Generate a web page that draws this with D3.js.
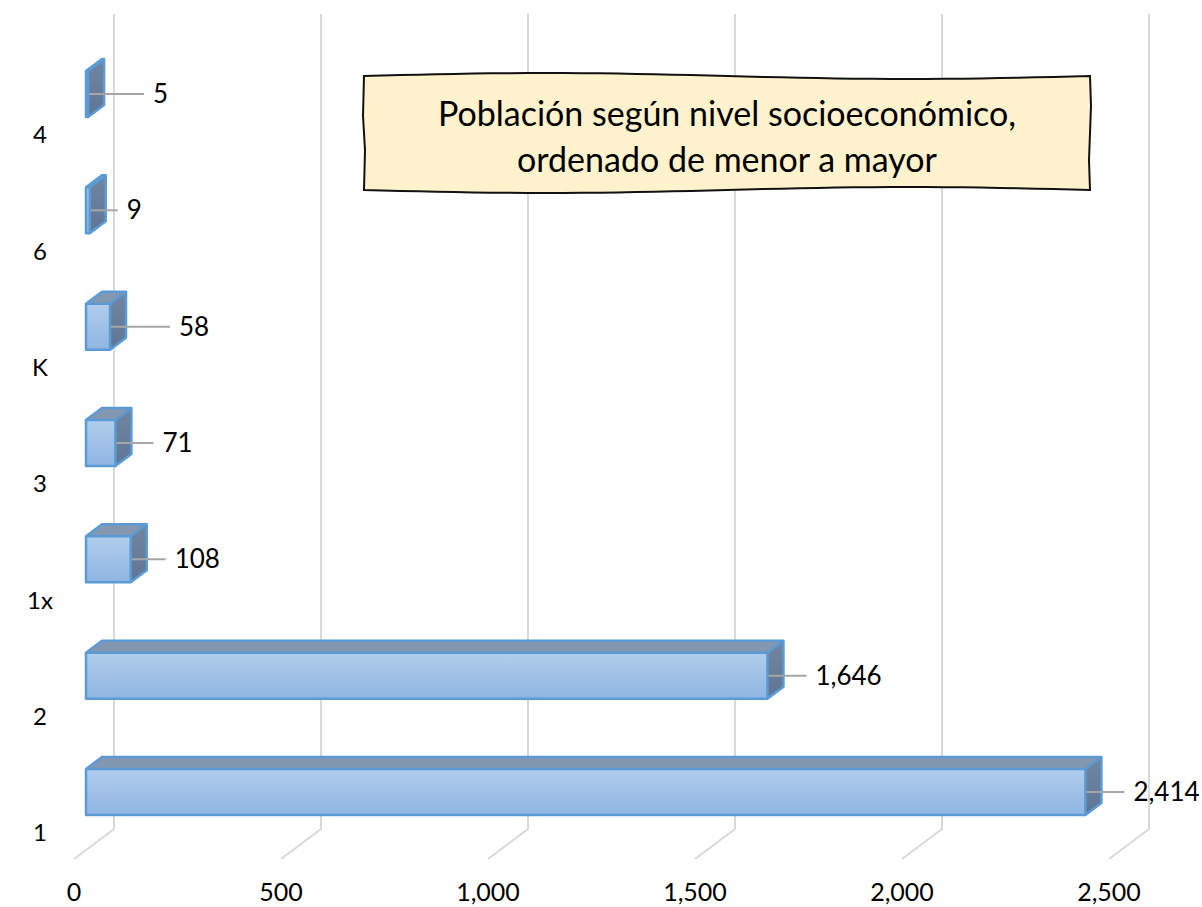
<!DOCTYPE html>
<html>
<head>
<meta charset="utf-8">
<script src="https://cdn.jsdelivr.net/npm/d3@7"></script>
<style>
  body { margin: 0; background: #fff; }
  svg { display: block; font-family: Lato, "Open Sans", sans-serif; }
</style>
</head>
<body>
<div id="chart"></div>
<script>
// categories top to bottom
const categories = ["4", "6", "K", "3", "1x", "2", "1"];
const values = [5, 9, 58, 71, 108, 1646, 2414];
const xTicks = [0, 500, 1000, 1500, 2000, 2500];
const titleLines = ["Población según nivel socioeconómico,", "ordenado de menor a mayor"];

// where excel left the data labels (gap from bar end, px)
const labelGap = [65, 37, 69, 47, 44, 48, 48];

const width = 1202;
const height = 907;

// oblique 3d: full depth shifts x by 40, y by -30
const depthX = 40, depthY = 30;
const frontX = 74;        // x of 0 at the front floor edge
const floorY = 859;       // y of front floor edge
const zFront = 0.3, zBack = 0.7;

const x = d3.scaleLinear()
    .domain([0, 2500])
    .range([0, 1035]);

const y = d3.scalePoint()
    .domain(categories)
    .range([135, 833]);

const barH = 46;
const barTopOffset = 64;

const px = (v, z) => frontX + x(v) + z * depthX;

const svg = d3.select("#chart").append("svg")
    .attr("width", width)
    .attr("height", height)
    .attr("viewBox", [0, 0, width, height]);

const defs = svg.append("defs");
const gFront = defs.append("linearGradient").attr("id", "front").attr("x1", 0).attr("y1", 0).attr("x2", 0).attr("y2", 1);
gFront.append("stop").attr("offset", "0%").attr("stop-color", "#b1cdec");
gFront.append("stop").attr("offset", "100%").attr("stop-color", "#8fb5e2");
const gSide = defs.append("linearGradient").attr("id", "side").attr("x1", 0).attr("y1", 0).attr("x2", 0).attr("y2", 1);
gSide.append("stop").attr("offset", "0%").attr("stop-color", "#71869f");
gSide.append("stop").attr("offset", "100%").attr("stop-color", "#5f7595");

// gridlines: back wall vertical + floor diagonal
const grid = svg.append("g")
    .attr("fill", "none")
    .attr("stroke", "#d9d9d9")
    .attr("stroke-width", 2);

grid.selectAll("path")
    .data(xTicks)
    .join("path")
    .attr("d", d => `M${px(d, 1)},14 L${px(d, 1)},${floorY - depthY} L${px(d, 0)},${floorY}`);

// x tick labels
svg.append("g")
    .attr("font-size", 25)
    .attr("text-anchor", "middle")
    .selectAll("text")
    .data(xTicks)
    .join("text")
    .attr("x", d => px(d, 0))
    .attr("y", 892)
    .attr("dy", "0.35em")
    .text(d => d3.format(",")(d));

// category labels
svg.append("g")
    .attr("font-size", 24)
    .attr("text-anchor", "middle")
    .selectAll("text")
    .data(categories)
    .join("text")
    .attr("x", 40)
    .attr("y", d => y(d))
    .attr("dy", "0.35em")
    .text(d => d);

const data = categories.map((c, i) => ({ c, v: values[i], gap: labelGap[i] }));

const bars = svg.append("g")
    .selectAll("g")
    .data(data)
    .join("g");

const dzx = (zBack - zFront) * depthX;
const dzy = (zBack - zFront) * depthY;

bars.each(function(d) {
    const g = d3.select(this);
    const x0 = px(0, zFront), x1 = px(d.v, zFront);
    const t = y(d.c) - barTopOffset, b = t + barH;

    // top face
    g.append("path")
        .attr("d", `M${x0},${t} L${x0 + dzx},${t - dzy} L${x1 + dzx},${t - dzy} L${x1},${t} Z`)
        .attr("fill", "#8497b0");
    // side face
    g.append("path")
        .attr("d", `M${x1},${t} L${x1 + dzx},${t - dzy} L${x1 + dzx},${b - dzy} L${x1},${b} Z`)
        .attr("fill", "url(#side)");
    // front face
    g.append("rect")
        .attr("x", x0)
        .attr("y", t)
        .attr("width", Math.max(x1 - x0, 0.5))
        .attr("height", barH)
        .attr("fill", "url(#front)");
    // outline
    g.append("path")
        .attr("d", `M${x0},${b} L${x0},${t} L${x0 + dzx},${t - dzy} L${x1 + dzx},${t - dzy} L${x1 + dzx},${b - dzy} L${x1},${b} Z M${x0},${t} L${x1},${t} L${x1},${b} M${x1},${t} L${x1 + dzx},${t - dzy}`)
        .attr("fill", "none")
        .attr("stroke", "#5b9bd5")
        .attr("stroke-width", 2.5)
        .attr("stroke-linejoin", "round");

    // leader line + value label
    const my = t + barH / 2;
    g.append("line")
        .attr("x1", x1 + 1)
        .attr("y1", my)
        .attr("x2", x1 + d.gap - 9)
        .attr("y2", my)
        .attr("stroke", "#a6a6a6")
        .attr("stroke-width", 2);
    g.append("text")
        .attr("x", x1 + d.gap)
        .attr("y", my)
        .attr("dy", "0.35em")
        .attr("font-size", 26)
        .text(d3.format(",")(d.v));
});

// wavy title box
const bx0 = 364, bx1 = 1090, by0 = 76, by1 = 190;
const wave = (xa, xb, yy, amp, n) => {
    const pts = d3.range(n + 1).map(i => {
        const xx = xa + (xb - xa) * i / n;
        return [xx, yy + amp * Math.sin(i / n * Math.PI * 2)];
    });
    return pts;
};
const topEdge = wave(bx0, bx1, by0, -3, 40);
const botEdge = wave(bx1, bx0, by1, -3, 40);
const boxPts = topEdge.concat([[bx1 + 1, by0 + 30], [bx1 - 1, by1 - 30]], botEdge, [[bx0 + 1, by1 - 40], [bx0 - 1, by0 + 40]]);

svg.append("path")
    .attr("d", d3.line().curve(d3.curveLinearClosed)(boxPts))
    .attr("fill", "#fff2cc")
    .attr("stroke", "#111")
    .attr("stroke-width", 2);

svg.append("g")
    .attr("font-size", 34)
    .attr("text-anchor", "middle")
    .selectAll("text")
    .data(titleLines)
    .join("text")
    .attr("x", 727)
    .attr("y", (d, i) => 114 + i * 46)
    .attr("dy", "0.35em")
    .text(d => d);
</script>
</body>
</html>
